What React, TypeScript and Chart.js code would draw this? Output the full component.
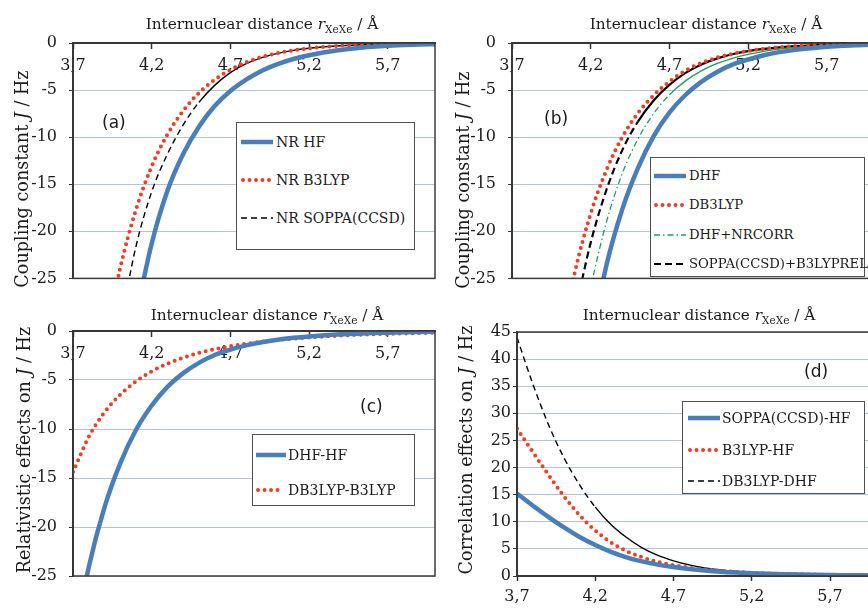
import React, { useEffect, useRef } from "react";
import { Chart, registerables } from "chart.js";

Chart.register(...registerables);

// ---------- data ----------
const R_XEXE = [3.7, 3.8, 3.9, 4.0, 4.1, 4.2, 4.3, 4.4, 4.5, 4.6, 4.7, 4.8, 4.9, 5.0, 5.1, 5.2, 5.3, 5.4, 5.5, 5.6, 5.7, 5.8, 5.9, 6.0];
const X_TICKS = [3.7, 4.2, 4.7, 5.2, 5.7];

// (a) non-relativistic couplings
const NR_HF = [null, null, null, null, -29, -21.3, -15.7, -11.8, -8.9, -6.7, -5.1, -3.9, -2.95, -2.25, -1.7, -1.3, -0.98, -0.74, -0.55, -0.41, -0.3, -0.22, -0.16, -0.12];
const NR_B3LYP = [null, null, -32.2, -23.9, -17.7, -13.1, -9.7, -7.2, -5.3, -3.9, -2.85, -2.05, -1.48, -1.07, -0.77, -0.56, -0.4, -0.29, -0.21, -0.15, -0.11, -0.08, -0.06, -0.04];
const NR_SOPPA = [null, null, null, -30, -21.6, -15.8, -11.8, -8.7, -6.3, -4.5, -3.15, -2.2, -1.55, -1.1, -0.78, -0.56, -0.4, -0.29, -0.21, -0.15, -0.11, -0.08, -0.06, -0.04];

// (b) relativistic couplings
const DHF = [null, null, null, null, null, -31.8, -23.6, -17.7, -13.3, -9.9, -7.4, -5.55, -4.15, -3.1, -2.3, -1.75, -1.3, -0.97, -0.73, -0.55, -0.41, -0.3, -0.23, -0.17];
const DB3LYP = [null, null, null, -32.6, -24.3, -18.1, -13.5, -10.0, -7.45, -5.55, -4.1, -2.95, -2.15, -1.57, -1.15, -0.84, -0.62, -0.45, -0.33, -0.24, -0.18, -0.13, -0.1, -0.07];
const DHF_NRCORR = [null, null, null, null, -34.5, -26.0, -19.0, -13.9, -10.2, -7.5, -5.5, -4.05, -2.98, -2.2, -1.62, -1.2, -0.88, -0.65, -0.48, -0.35, -0.26, -0.19, -0.14, -0.1];
const SOPPA_B3LYPREL = [null, null, null, null, -28.6, -21.2, -15.6, -11.4, -8.35, -6.1, -4.45, -3.2, -2.3, -1.66, -1.2, -0.87, -0.63, -0.46, -0.33, -0.24, -0.18, -0.13, -0.1, -0.07];

// (c) relativistic effects
const DHF_MINUS_HF = [-32.3, -24.1, -18.0, -13.5, -10.1, -7.6, -5.7, -4.3, -3.25, -2.45, -1.9, -1.47, -1.14, -0.89, -0.7, -0.55, -0.43, -0.34, -0.27, -0.21, -0.17, -0.13, -0.1, -0.08];
const DB3LYP_MINUS_B3LYP = [-14.4, -10.8, -8.3, -6.5, -5.15, -4.12, -3.33, -2.72, -2.24, -1.86, -1.55, -1.3, -1.09, -0.92, -0.78, -0.66, -0.56, -0.47, -0.4, -0.34, -0.29, -0.25, -0.21, -0.18];

// (d) correlation effects
const SOPPA_MINUS_HF = [15.2, 13.0, 10.9, 8.95, 7.2, 5.7, 4.45, 3.45, 2.7, 2.1, 1.65, 1.3, 1.02, 0.8, 0.64, 0.51, 0.41, 0.33, 0.27, 0.22, 0.18, 0.15, 0.12, 0.1];
const B3LYP_MINUS_HF = [27.2, 22.9, 18.7, 14.7, 11.2, 8.4, 6.2, 4.6, 3.45, 2.6, 2.0, 1.55, 1.2, 0.95, 0.75, 0.6, 0.48, 0.39, 0.32, 0.26, 0.21, 0.17, 0.14, 0.12];
const DB3LYP_MINUS_DHF = [44, 35.5, 28.0, 21.8, 16.8, 12.7, 9.5, 7.1, 5.2, 3.8, 2.8, 2.05, 1.5, 1.1, 0.82, 0.62, 0.47, 0.36, 0.28, 0.22, 0.17, 0.13, 0.1, 0.08];

// ---------- styles ----------
const SERIF = '"DejaVu Serif", serif';
const SANS = '"DejaVu Sans", sans-serif';

type LineStyle = { color: string; width: number; dash: number[]; cap: "butt" | "round"; flatSlope?: number };
const BLUE: LineStyle = { color: "#4a7ebb", width: 4.5, dash: [], cap: "butt" };
const RED_DOTS: LineStyle = { color: "#f43c22", width: 4, dash: [0, 6.5], cap: "round" };
const BLACK_DASH: LineStyle = { color: "#000000", width: 1.4, dash: [6, 4], cap: "butt", flatSlope: 1.4 };
const BLACK_DASH_B: LineStyle = { color: "#000000", width: 2.2, dash: [7, 4], cap: "butt", flatSlope: 1.4 };
const GREEN_DASHDOT: LineStyle = { color: "#16a35a", width: 1.3, dash: [6, 3, 1.5, 3], cap: "butt", flatSlope: 1.0 };

type Series = { label: string; values: (number | null)[]; style: LineStyle };

type PanelCfg = {
  canvas: { left: number; top: number; w: number; h: number };
  area: { left: number; top: number; right: number; bottom: number };
  yMin: number;
  yMax: number;
  xAtZero: boolean;
  yPad: number;
  xPad: number;
  series: Series[];
};

const PANEL_A: PanelCfg = {
  canvas: { left: 0, top: 0, w: 436, h: 300 },
  area: { left: 73, top: 43, right: 435, bottom: 286 },
  yMin: -25, yMax: 0, xAtZero: true, yPad: 12, xPad: 8,
  series: [
    { label: "NR HF", values: NR_HF, style: BLUE },
    { label: "NR B3LYP", values: NR_B3LYP, style: RED_DOTS },
    { label: "NR SOPPA(CCSD)", values: NR_SOPPA, style: BLACK_DASH },
  ],
};
const PANEL_B: PanelCfg = {
  canvas: { left: 434, top: 0, w: 440, h: 300 },
  area: { left: 78, top: 43, right: 440, bottom: 286 },
  yMin: -25, yMax: 0, xAtZero: true, yPad: 12, xPad: 8,
  series: [
    { label: "DHF", values: DHF, style: BLUE },
    { label: "DB3LYP", values: DB3LYP, style: RED_DOTS },
    { label: "DHF+NRCORR", values: DHF_NRCORR, style: GREEN_DASHDOT },
    { label: "SOPPA(CCSD)+B3LYPREL", values: SOPPA_B3LYPREL, style: BLACK_DASH_B },
  ],
};
const PANEL_C: PanelCfg = {
  canvas: { left: 0, top: 300, w: 436, h: 300 },
  area: { left: 73, top: 31, right: 435, bottom: 276 },
  yMin: -25, yMax: 0, xAtZero: true, yPad: 12, xPad: 8,
  series: [
    { label: "DHF-HF", values: DHF_MINUS_HF, style: BLUE },
    { label: "DB3LYP-B3LYP", values: DB3LYP_MINUS_B3LYP, style: RED_DOTS },
  ],
};
const PANEL_D: PanelCfg = {
  canvas: { left: 434, top: 300, w: 445, h: 308 },
  area: { left: 83, top: 32, right: 443, bottom: 276 },
  yMin: 0, yMax: 45, xAtZero: false, yPad: 2, xPad: 6,
  series: [
    { label: "SOPPA(CCSD)-HF", values: SOPPA_MINUS_HF, style: BLUE },
    { label: "B3LYP-HF", values: B3LYP_MINUS_HF, style: RED_DOTS },
    { label: "DB3LYP-DHF", values: DB3LYP_MINUS_DHF, style: BLACK_DASH },
  ],
};

const framePlugin = {
  id: "frame",
  afterDatasetsDraw(chart: any) {
    const { ctx, chartArea: a } = chart;
    ctx.save();
    ctx.strokeStyle = "#3a3a3a";
    ctx.lineWidth = 1.5;
    ctx.strokeRect(a.left, a.top, a.right - a.left, a.bottom - a.top);
    ctx.restore();
  },
};

function ChartPanel({ cfg }: { cfg: PanelCfg }) {
  const ref = useRef<HTMLCanvasElement | null>(null);
  useEffect(() => {
    if (!ref.current) return;
    const { canvas, area } = cfg;
    const tickFont = { family: SERIF, size: 16 };
    const bottomSpace = canvas.h - area.bottom;
    const chart = new Chart(ref.current, {
      type: "line",
      data: {
        datasets: cfg.series.map((s) => ({
          label: s.label,
          data: R_XEXE.map((x, i) => ({ x, y: s.values[i] })),
          borderColor: s.style.color,
          backgroundColor: s.style.color,
          borderWidth: s.style.width,
          borderDash: s.style.dash,
          borderCapStyle: s.style.cap,
          borderJoinStyle: "round",
          pointRadius: 0,
          fill: false,
          spanGaps: false,
          cubicInterpolationMode: "monotone",
          segment: s.style.flatSlope
            ? {
                borderDash: (c: any) => {
                  const dx = Math.abs(c.p1.x - c.p0.x) || 1;
                  const dy = Math.abs(c.p1.y - c.p0.y);
                  return dy / dx > (s.style.flatSlope as number) ? s.style.dash : [];
                },
              }
            : undefined,
        })) as any,
      },
      options: {
        responsive: false,
        animation: false,
        events: [],
        layout: {
          padding: {
            left: 0,
            top: area.top,
            right: canvas.w - area.right,
            bottom: cfg.xAtZero ? bottomSpace : 0,
          },
        },
        plugins: {
          legend: { display: false },
          tooltip: { enabled: false },
          title: { display: false },
        },
        scales: {
          x: {
            type: "linear",
            min: 3.7,
            max: 6.0,
            position: (cfg.xAtZero ? { y: 0 } : "bottom") as any,
            afterBuildTicks: (scale: any) => {
              scale.ticks = X_TICKS.map((v) => ({ value: v }));
            },
            afterFit: (scale: any) => {
              scale.height = cfg.xAtZero ? 0 : bottomSpace;
            },
            grid: {
              display: true,
              drawOnChartArea: false,
              drawTicks: true,
              tickLength: 5,
              tickColor: "#333333",
              tickWidth: 1.5,
            },
            border: { display: true, color: "#333333", width: 2 },
            ticks: {
              font: tickFont,
              color: "#1a1a1a",
              padding: cfg.xPad,
              maxRotation: 0,
              autoSkip: false,
              callback: (v: any) => Number(v).toFixed(1).replace(".", ","),
            },
          },
          y: {
            type: "linear",
            min: cfg.yMin,
            max: cfg.yMax,
            position: "left",
            afterFit: (scale: any) => {
              scale.width = area.left;
            },
            ticks: { stepSize: 5, font: tickFont, color: "#1a1a1a", padding: cfg.yPad },
            grid: {
              color: "#b5c3ce",
              lineWidth: 1,
              tickLength: 4,
              tickColor: "#333333",
            },
            border: { display: true, color: "#333333", width: 2 },
          },
        },
      } as any,
      plugins: [framePlugin],
    });
    return () => chart.destroy();
  }, [cfg]);
  return (
    <canvas
      ref={ref}
      width={cfg.canvas.w}
      height={cfg.canvas.h}
      style={{
        position: "absolute",
        left: cfg.canvas.left,
        top: cfg.canvas.top,
        width: cfg.canvas.w,
        height: cfg.canvas.h,
      }}
    />
  );
}

function XTitle({ cx, top }: { cx: number; top: number }) {
  return (
    <div
      style={{
        position: "absolute",
        left: cx,
        top,
        transform: "translateX(-50%)",
        whiteSpace: "nowrap",
        fontFamily: SERIF,
        fontSize: 15.3,
        lineHeight: "20px",
      }}
    >
      Internuclear distance <i>r</i>
      <span style={{ fontSize: 10.5, position: "relative", top: 4 }}>XeXe</span> / Å
    </div>
  );
}

function YTitle({ cx, cy, pre }: { cx: number; cy: number; pre: string }) {
  return (
    <div
      style={{
        position: "absolute",
        left: cx,
        top: cy,
        transform: "translate(-50%, -50%) rotate(-90deg)",
        whiteSpace: "nowrap",
        fontFamily: SERIF,
        fontSize: 17.6,
        lineHeight: "20px",
      }}
    >
      {pre}
      <i>J</i> / Hz
    </div>
  );
}

function Tag({ x, cy, text }: { x: number; cy: number; text: string }) {
  return (
    <div
      style={{
        position: "absolute",
        left: x,
        top: cy,
        transform: "translateY(-50%)",
        fontFamily: SANS,
        fontSize: 17,
        lineHeight: "20px",
        whiteSpace: "nowrap",
      }}
    >
      {text}
    </div>
  );
}

type LegendCfg = {
  left: number; top: number; w: number; h: number;
  sx: number; sw: number; tx: number; font: number;
  rows: number[];
  series: Series[];
};

function Legend({ cfg }: { cfg: LegendCfg }) {
  return (
    <div
      style={{
        position: "absolute",
        left: cfg.left,
        top: cfg.top,
        width: cfg.w,
        height: cfg.h,
        border: "1.5px solid #505050",
        boxSizing: "border-box",
        background: "#ffffff",
      }}
    >
      {cfg.series.map((s, i) => {
        const cy = cfg.rows[i] - cfg.top;
        return (
          <React.Fragment key={s.label}>
            <svg
              width={cfg.sw}
              height={12}
              style={{ position: "absolute", left: cfg.sx - cfg.left, top: cy - 6 }}
            >
              <line
                x1={s.style.cap === "round" ? 2 : 0}
                y1={6}
                x2={cfg.sw - (s.style.cap === "round" ? 2 : 0)}
                y2={6}
                stroke={s.style.color}
                strokeWidth={s.style.width}
                strokeDasharray={s.style.dash.length ? s.style.dash.join(" ") : undefined}
                strokeLinecap={s.style.cap}
              />
            </svg>
            <div
              style={{
                position: "absolute",
                left: cfg.tx - cfg.left,
                top: cy,
                transform: "translateY(-50%)",
                fontFamily: SERIF,
                fontSize: cfg.font,
                lineHeight: "18px",
                whiteSpace: "nowrap",
              }}
            >
              {s.label}
            </div>
          </React.Fragment>
        );
      })}
    </div>
  );
}

const LEGEND_A: LegendCfg = { left: 236, top: 122, w: 179, h: 128, sx: 240, sw: 32, tx: 275, font: 14, rows: [141, 179, 217], series: PANEL_A.series };
const LEGEND_B: LegendCfg = { left: 650, top: 157, w: 215, h: 120, sx: 653, sw: 32, tx: 688, font: 13.2, rows: [175, 204, 233.5, 263], series: PANEL_B.series };
const LEGEND_C: LegendCfg = { left: 252, top: 434, w: 163, h: 72, sx: 255, sw: 30, tx: 287, font: 14, rows: [454, 489], series: PANEL_C.series };
const LEGEND_D: LegendCfg = { left: 682, top: 401, w: 183, h: 93, sx: 687, sw: 32, tx: 721, font: 14, rows: [417, 449, 480], series: PANEL_D.series };

export default function App() {
  return (
    <div
      style={{
        position: "absolute",
        left: 0,
        top: 0,
        width: 868,
        height: 608,
        overflow: "hidden",
        background: "#ffffff",
        color: "#1a1a1a",
        fontFamily: SERIF,
      }}
    >
      <ChartPanel cfg={PANEL_A} />
      <ChartPanel cfg={PANEL_B} />
      <ChartPanel cfg={PANEL_C} />
      <ChartPanel cfg={PANEL_D} />

      <XTitle cx={262} top={14} />
      <XTitle cx={706} top={14} />
      <XTitle cx={267} top={305} />
      <XTitle cx={699} top={305} />

      <YTitle cx={22} cy={179} pre="Coupling constant " />
      <YTitle cx={463} cy={180} pre="Coupling constant " />
      <YTitle cx={24} cy={450} pre="Relativistic effects on " />
      <YTitle cx={466} cy={450} pre="Correlation effects on " />

      <Tag x={102} cy={122} text="(a)" />
      <Tag x={544} cy={118} text="(b)" />
      <Tag x={360} cy={406} text="(c)" />
      <Tag x={804} cy={371} text="(d)" />

      <Legend cfg={LEGEND_A} />
      <Legend cfg={LEGEND_B} />
      <Legend cfg={LEGEND_C} />
      <Legend cfg={LEGEND_D} />
    </div>
  );
}
